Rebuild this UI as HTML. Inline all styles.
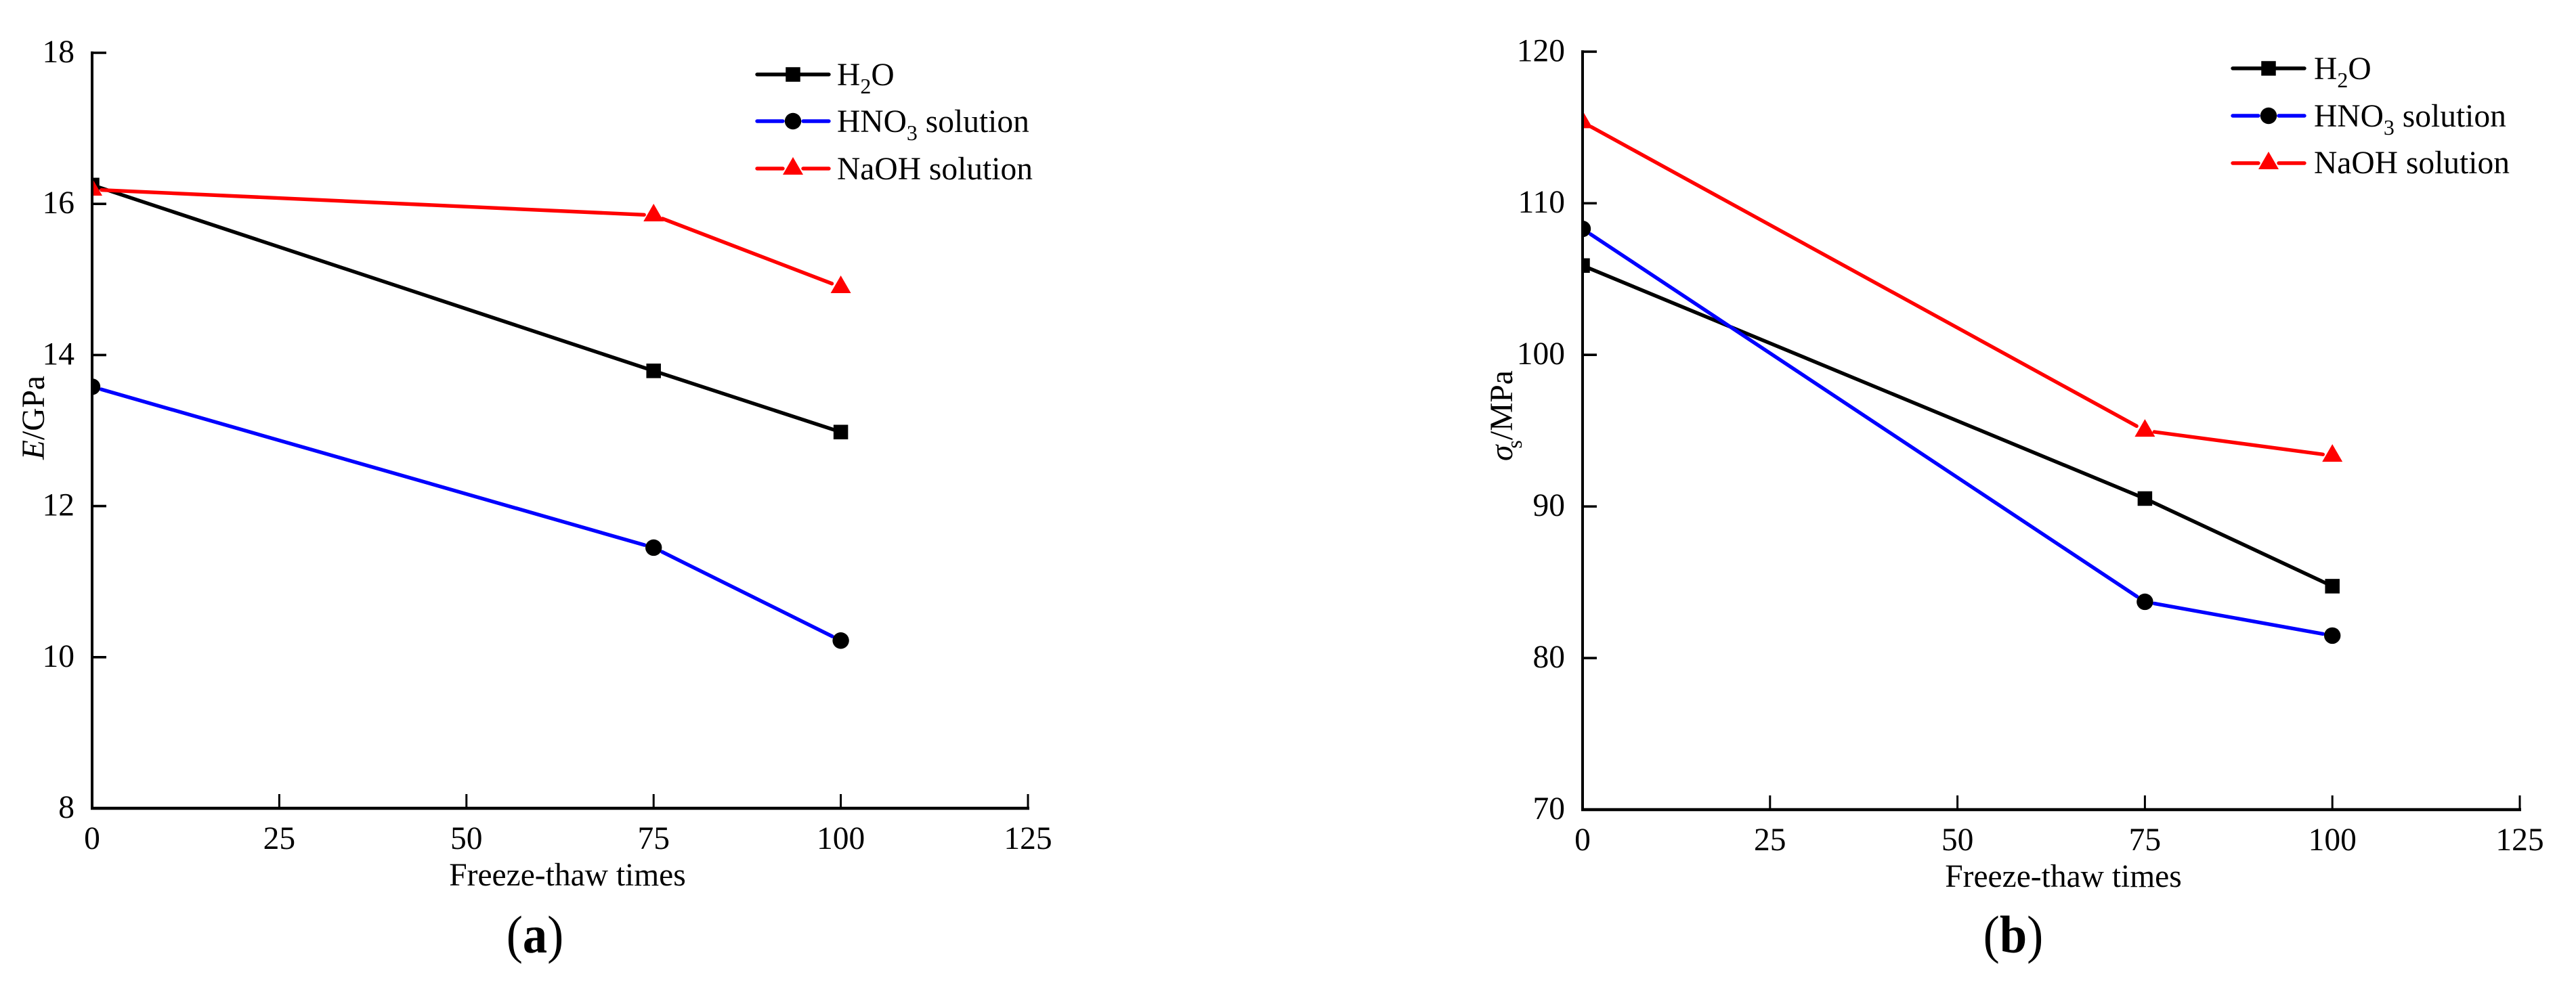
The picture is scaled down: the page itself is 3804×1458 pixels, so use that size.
<!DOCTYPE html>
<html lang="en">
<head>
<meta charset="utf-8">
<title>Freeze-thaw times charts</title>
<style>
html,body{margin:0;padding:0;background:#fff;width:3804px;height:1458px;overflow:hidden}
svg{display:block}
text{font-family:"Liberation Serif","Times New Roman",serif;font-size:47.5px;fill:#000}
.sub{font-size:32px}
.cap{font-size:78px}
</style>
</head>
<body>
<svg id="figure" xmlns="http://www.w3.org/2000/svg" width="3804" height="1458" viewBox="0 0 3804 1458">
  <defs>
    <clipPath id="clip-a"><rect x="136" y="0" width="1700" height="1300"/></clipPath>
    <clipPath id="clip-b"><rect x="2337" y="0" width="1467" height="1300"/></clipPath>
  </defs>
  <rect x="0" y="0" width="3804" height="1458" fill="#fff"/>
  <g id="panel-a"></g>
  <g id="panel-b"></g>

  <text x="838" y="1308" text-anchor="middle">Freeze-thaw times</text>
  <text x="3047" y="1310" text-anchor="middle">Freeze-thaw times</text>

  <text transform="translate(65 679) rotate(-90)"><tspan font-style="italic">E</tspan>/GPa</text>
  <text transform="translate(2233 681) rotate(-90)"><tspan font-style="italic">σ</tspan><tspan class="sub" dx="-5" dy="14">s</tspan><tspan dy="-14">/MPa</tspan></text>

  <text class="cap" transform="translate(790 1407) scale(0.93 1)" text-anchor="middle">(<tspan font-weight="bold">a</tspan>)</text>
  <text class="cap" transform="translate(2973 1407) scale(0.93 1)" text-anchor="middle">(<tspan font-weight="bold">b</tspan>)</text>

  <g>
    <text x="1236" y="126">H<tspan class="sub" dy="12">2</tspan><tspan dy="-12">O</tspan></text>
    <text x="1236" y="195">HNO<tspan class="sub" dy="12">3</tspan><tspan dy="-12"> solution</tspan></text>
    <text x="1236" y="265">NaOH solution</text>
  </g>
  <g>
    <text x="3417" y="117">H<tspan class="sub" dy="12">2</tspan><tspan dy="-12">O</tspan></text>
    <text x="3417" y="187">HNO<tspan class="sub" dy="12">3</tspan><tspan dy="-12"> solution</tspan></text>
    <text x="3417" y="256">NaOH solution</text>
  </g>
</svg>
<script>
// Chart data
const freezeThawTimes = [0, 75, 100];
const xTickLabels = [0, 25, 50, 75, 100, 125];
const modulusTickLabels = [8, 10, 12, 14, 16, 18];
const strengthTickLabels = [70, 80, 90, 100, 110, 120];

const modulusH2O = [16.25, 13.79, 12.98];
const modulusHNO3 = [13.58, 11.45, 10.22];
const modulusNaOH = [16.19, 15.85, 14.90];

const strengthH2O = [105.89, 90.52, 84.74];
const strengthHNO3 = [108.31, 83.71, 81.48];
const strengthNaOH = [115.35, 95.00, 93.35];

const NS = 'http://www.w3.org/2000/svg';

function make(parent, tag, attrs) {
  const el = document.createElementNS(NS, tag);
  for (const k in attrs) el.setAttribute(k, attrs[k]);
  parent.appendChild(el);
  return el;
}

function drawMarker(parent, kind, cx, cy, label) {
  let el;
  if (kind === 'square') {
    el = make(parent, 'rect', { x: cx - 10.75, y: cy - 10.75, width: 21.5, height: 21.5, fill: '#000' });
  } else if (kind === 'circle') {
    el = make(parent, 'circle', { cx: cx, cy: cy, r: 12.2, fill: '#000' });
  } else {
    el = make(parent, 'polygon', {
      points: (cx) + ',' + (cy - 17) + ' ' + (cx - 15) + ',' + (cy + 9) + ' ' + (cx + 15) + ',' + (cy + 9),
      fill: '#f00'
    });
  }
  
  
}

function drawSegment(parent, p, q, color, gap, label) {
  const dx = q.x - p.x, dy = q.y - p.y, len = Math.hypot(dx, dy);
  const ux = dx / len, uy = dy / len;
  const el = make(parent, 'line', {
    x1: p.x + ux * gap, y1: p.y + uy * gap,
    x2: q.x - ux * gap, y2: q.y - uy * gap,
    stroke: color, 'stroke-width': 5.4, 'stroke-linecap': 'round'
  });
  
  
}

function drawPanel(cfg) {
  const root = document.getElementById(cfg.id);
  const sx = v => cfg.x0 + (v - cfg.xMin) / (cfg.xMax - cfg.xMin) * (cfg.x1 - cfg.x0);
  const sy = v => cfg.yBottom - (v - cfg.yMin) / (cfg.yMax - cfg.yMin) * (cfg.yBottom - cfg.yTop);

  const plot = make(root, 'g', { 'clip-path': 'url(#' + cfg.clip + ')' });
  
  

  cfg.series.forEach(s => {
    const pts = cfg.categories.map((c, i) => ({ x: sx(c), y: sy(s.values[i]) }));
    for (let i = 0; i < pts.length - 1; i++) {
      drawSegment(plot, pts[i], pts[i + 1], s.color, s.gap, cfg.key + '-line-' + s.name + '-' + i);
    }
    pts.forEach((p, i) => drawMarker(plot, s.marker, p.x, p.y, cfg.key + '-point-' + s.name + '-' + cfg.categories[i]));
  });

  const yAxis = make(root, 'line', { x1: cfg.x0, x2: cfg.x0, y1: cfg.yTop - 2, y2: cfg.yBottom + 2, stroke: '#000', 'stroke-width': 4 });
  
  

  const xAxis = make(root, 'line', { x1: cfg.x0 - 2, x2: cfg.x1 + 2, y1: cfg.yBottom, y2: cfg.yBottom, stroke: '#000', 'stroke-width': 4.4 });
  
  

  cfg.yTicks.forEach(v => {
    const y = sy(v);
    const tick = make(root, 'line', { x1: cfg.x0, x2: cfg.x0 + 21, y1: y, y2: y, stroke: '#000', 'stroke-width': 3.6 });
    
    
    const t = make(root, 'text', { x: cfg.x0 - 26, y: y + 14, 'text-anchor': 'end' });
    t.textContent = v;
    
    
  });

  cfg.xTicks.forEach(v => {
    const x = sx(v);
    if (v !== cfg.xMin) {
      const tick = make(root, 'line', { x1: x, x2: x, y1: cfg.yBottom - 21, y2: cfg.yBottom, stroke: '#000', 'stroke-width': 3 });
      
      
    }
    const t = make(root, 'text', { x: x, y: cfg.xLabelY, 'text-anchor': 'middle' });
    t.textContent = v;
    
    
  });

  const lg = cfg.legend;
  cfg.series.forEach((s, i) => {
    const y = lg.ys[i];
    const g = make(root, 'g', {});
    
    
    const inner = s.gap > 0 ? 15 : 0;
    const left = make(g, 'line', { x1: lg.cx - 53, x2: lg.cx - inner, y1: y, y2: y, stroke: s.color, 'stroke-width': 5.4, 'stroke-linecap': 'round' });
    
    
    const right = make(g, 'line', { x1: lg.cx + inner, x2: lg.cx + 53, y1: y, y2: y, stroke: s.color, 'stroke-width': 5.4, 'stroke-linecap': 'round' });
    
    
    drawMarker(g, s.marker, lg.cx, y, cfg.key + '-legend-marker-' + s.name);
  });
}

drawPanel({
  id: 'panel-a', key: 'a', clip: 'clip-a',
  x0: 136, x1: 1518, xMin: 0, xMax: 125,
  yTop: 78, yBottom: 1194, yMin: 8, yMax: 18,
  xLabelY: 1254,
  categories: freezeThawTimes, xTicks: xTickLabels, yTicks: modulusTickLabels,
  series: [
    { name: 'h2o', values: modulusH2O, color: '#000', marker: 'square', gap: 0 },
    { name: 'hno3', values: modulusHNO3, color: '#00f', marker: 'circle', gap: 14 },
    { name: 'naoh', values: modulusNaOH, color: '#f00', marker: 'triangle', gap: 14 }
  ],
  legend: { cx: 1171, ys: [110, 179, 249] }
});

drawPanel({
  id: 'panel-b', key: 'b', clip: 'clip-b',
  x0: 2337, x1: 3721, xMin: 0, xMax: 125,
  yTop: 76.3, yBottom: 1196, yMin: 70, yMax: 120,
  xLabelY: 1256,
  categories: freezeThawTimes, xTicks: xTickLabels, yTicks: strengthTickLabels,
  series: [
    { name: 'h2o', values: strengthH2O, color: '#000', marker: 'square', gap: 0 },
    { name: 'hno3', values: strengthHNO3, color: '#00f', marker: 'circle', gap: 14 },
    { name: 'naoh', values: strengthNaOH, color: '#f00', marker: 'triangle', gap: 14 }
  ],
  legend: { cx: 3350, ys: [101, 171, 241] }
});
</script>
</body>
</html>
